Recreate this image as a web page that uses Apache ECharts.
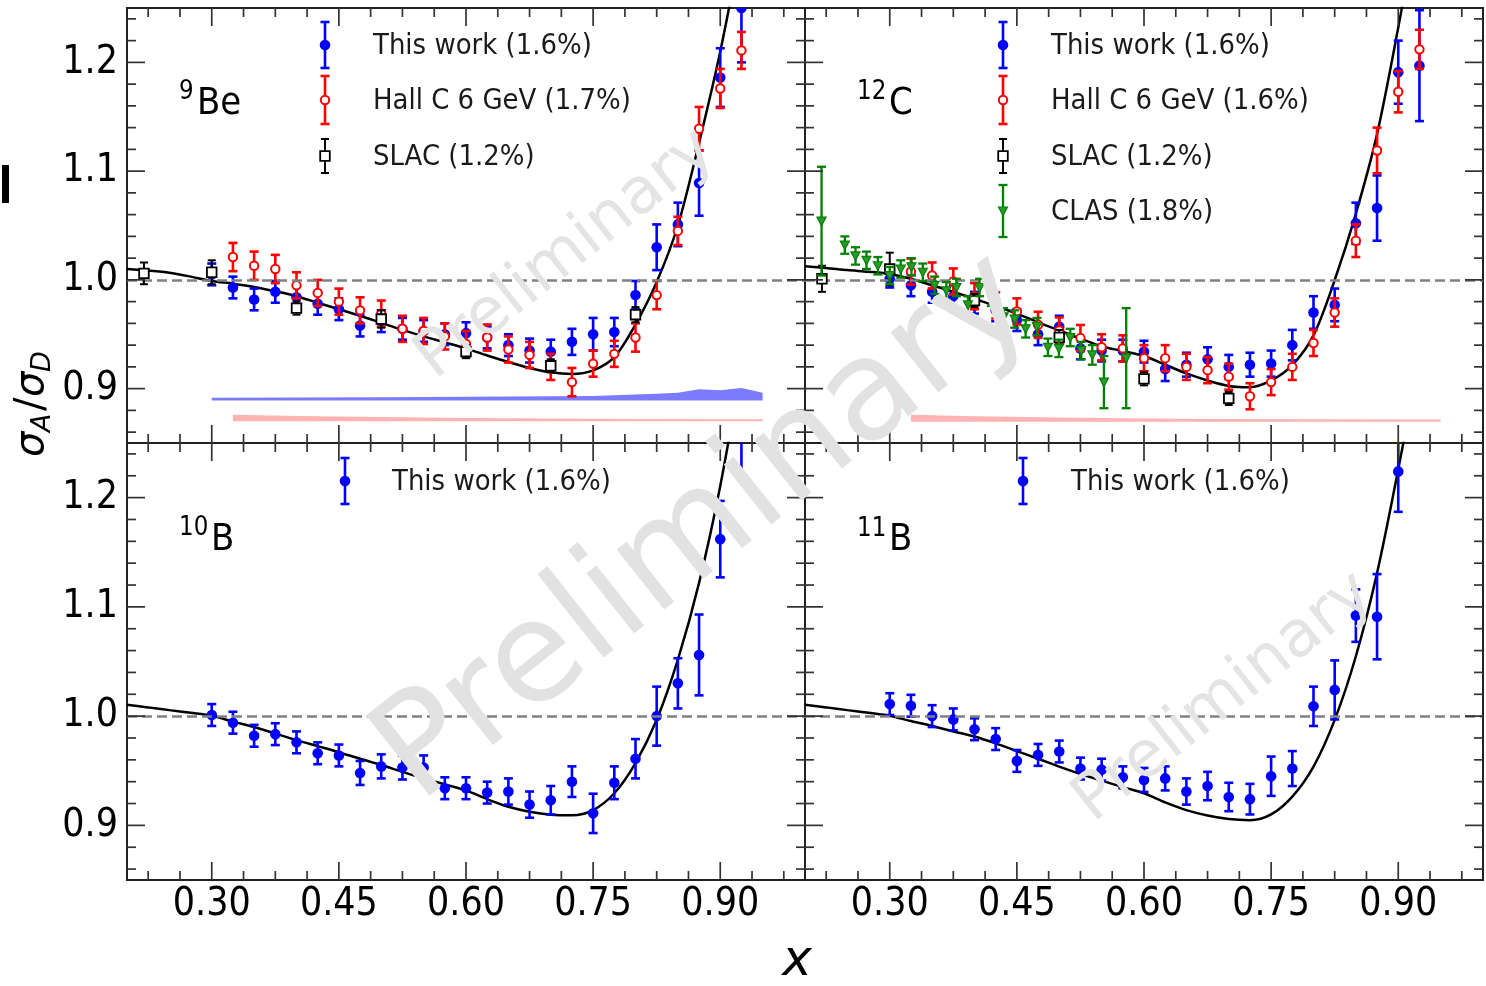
<!DOCTYPE html>
<html><head><meta charset="utf-8">
<script src="https://cdn.jsdelivr.net/npm/echarts@6/dist/echarts.min.js"></script>
<style>html,body{margin:0;padding:0;background:#fff}#c{width:1486px;height:986px}</style>
</head><body><div id="c"></div>
<script>
// ---------- tick definitions ----------
const xMajor = [0.30, 0.45, 0.60, 0.75, 0.90];
const xMajorLabels = ['0.30', '0.45', '0.60', '0.75', '0.90'];
const xMinor = [0.225, 0.2625, 0.3375, 0.375, 0.4125, 0.4875, 0.525, 0.5625, 0.6375, 0.675, 0.7125, 0.7875, 0.825, 0.8625, 0.9375, 0.975];
const yMajor = [0.9, 1.0, 1.1, 1.2];
const yMajorLabels = ['0.9', '1.0', '1.1', '1.2'];
const yMinor = [0.86, 0.88, 0.92, 0.94, 0.96, 0.98, 1.02, 1.04, 1.06, 1.08, 1.12, 1.14, 1.16, 1.18, 1.22, 1.24];

// ---------- theory curve abscissae (shared) ----------
const curveX = [0.20,0.225,0.25,0.275,0.30,0.325,0.35,0.375,0.40,0.425,0.45,0.475,0.50,0.525,0.55,0.575,0.60,0.625,0.65,0.675,0.70,0.725,0.75,0.775,0.80,0.825,0.85,0.875,0.90,0.925,0.95];

// ---------- 9Be ----------
const beThisX = [0.30,0.325,0.35,0.375,0.40,0.425,0.45,0.475,0.50,0.525,0.55,0.575,0.60,0.625,0.65,0.675,0.70,0.725,0.75,0.775,0.80,0.825,0.85,0.875,0.90,0.925];
const beThisY = [1.005,0.993,0.982,0.989,0.984,0.978,0.973,0.958,0.962,0.955,0.953,0.950,0.951,0.947,0.940,0.935,0.934,0.943,0.950,0.952,0.986,1.030,1.051,1.089,1.186,1.250];
const beThisE = [0.010,0.010,0.010,0.010,0.010,0.010,0.010,0.010,0.010,0.010,0.010,0.010,0.010,0.010,0.010,0.011,0.011,0.012,0.015,0.013,0.013,0.021,0.020,0.030,0.027,0.050];
const beHallX = [0.325,0.35,0.375,0.40,0.425,0.45,0.475,0.50,0.525,0.55,0.575,0.60,0.625,0.65,0.675,0.70,0.725,0.75,0.775,0.80,0.825,0.85,0.875,0.90,0.925];
const beHallY = [1.021,1.013,1.010,0.995,0.988,0.980,0.972,0.969,0.955,0.953,0.948,0.941,0.947,0.936,0.931,0.920,0.906,0.923,0.932,0.947,0.986,1.045,1.139,1.176,1.211];
const beHallE = [0.013,0.013,0.013,0.012,0.012,0.012,0.012,0.012,0.012,0.012,0.012,0.012,0.012,0.012,0.012,0.012,0.013,0.012,0.012,0.013,0.013,0.013,0.020,0.018,0.017];
const beSlacX = [0.22,0.30,0.40,0.50,0.60,0.70,0.80];
const beSlacY = [1.006,1.007,0.974,0.964,0.934,0.921,0.968];
const beSlacE = [0.010,0.011,0.006,0.008,0.006,0.006,0.007];
const beBandX  = [0.30,0.40,0.50,0.60,0.70,0.75,0.80,0.825,0.85,0.875,0.90,0.925,0.95];
const beBandLo = [0.889,0.889,0.889,0.889,0.889,0.889,0.889,0.889,0.889,0.889,0.889,0.889,0.889];
const beBandHi = [0.8915,0.8918,0.892,0.8925,0.893,0.8933,0.8945,0.8954,0.8963,0.8994,0.8985,0.9006,0.8963];
const beHallBandX  = [0.325,0.40,0.50,0.60,0.70,0.80,0.95];
const beHallBandLo = [0.870,0.870,0.870,0.870,0.870,0.870,0.870];
const beHallBandHi = [0.876,0.8748,0.8738,0.873,0.8725,0.872,0.8718];
const curveBeY = [1.010,1.0085,1.0065,1.003,0.999,0.9965,0.9935,0.9895,0.985,0.979,0.973,0.967,0.9605,0.954,0.948,0.9425,0.937,0.9305,0.9245,0.919,0.9150,0.9135,0.9168,0.929,0.9590,0.998,1.050,1.126,1.210,1.31,1.42];

// ---------- 12C ----------
const cThisX = [0.30,0.325,0.35,0.375,0.40,0.425,0.45,0.475,0.50,0.525,0.55,0.575,0.60,0.625,0.65,0.675,0.70,0.725,0.75,0.775,0.80,0.825,0.85,0.875,0.90,0.925];
const cThisY = [1.001,0.995,0.989,0.985,0.979,0.972,0.963,0.950,0.957,0.937,0.935,0.935,0.934,0.918,0.922,0.927,0.920,0.922,0.923,0.940,0.970,0.977,1.052,1.066,1.191,1.197];
const cThisE = [0.008,0.010,0.010,0.010,0.010,0.010,0.010,0.010,0.010,0.010,0.010,0.010,0.010,0.011,0.011,0.011,0.011,0.011,0.012,0.014,0.015,0.015,0.019,0.030,0.029,0.051];
const cHallX = [0.325,0.35,0.375,0.40,0.425,0.45,0.475,0.50,0.525,0.55,0.575,0.60,0.625,0.65,0.675,0.70,0.725,0.75,0.775,0.80,0.825,0.85,0.875,0.90,0.925];
const cHallY = [1.0076,1.004,0.9985,0.985,0.9765,0.971,0.9587,0.9535,0.9465,0.938,0.937,0.928,0.928,0.920,0.917,0.911,0.893,0.906,0.920,0.942,0.970,1.036,1.119,1.173,1.212];
const cHallE = [0.012,0.012,0.012,0.012,0.012,0.012,0.012,0.012,0.012,0.012,0.012,0.012,0.012,0.012,0.012,0.012,0.012,0.012,0.012,0.012,0.013,0.015,0.021,0.019,0.018];
const cSlacX = [0.22,0.30,0.40,0.50,0.60,0.70];
const cSlacY = [1.001,1.010,0.981,0.947,0.909,0.891];
const cSlacE = [0.012,0.015,0.006,0.007,0.006,0.006];
const cClasX = [0.2195,0.247,0.2596,0.2725,0.286,0.300,0.313,0.3256,0.339,0.353,0.3668,0.3786,0.3923,0.406,0.4199,0.4344,0.4474,0.4603,0.4737,0.4866,0.4996,0.513,0.526,0.539,0.5527,0.579];
const cClasY = [1.054,1.032,1.022,1.018,1.013,1.004,1.010,1.012,1.007,0.995,0.990,0.993,0.977,0.993,0.984,0.966,0.964,0.955,0.957,0.938,0.937,0.947,0.935,0.931,0.906,0.928];
const cClasE = [0.050,0.008,0.008,0.008,0.008,0.008,0.008,0.008,0.008,0.008,0.008,0.008,0.008,0.008,0.008,0.008,0.008,0.008,0.008,0.008,0.008,0.008,0.008,0.009,0.024,0.046];
const cHallBandX  = [0.325,0.40,0.50,0.60,0.70,0.80,0.95];
const cHallBandLo = [0.8695,0.8695,0.8695,0.8695,0.8695,0.8695,0.8695];
const cHallBandHi = [0.876,0.8745,0.8735,0.8725,0.872,0.8718,0.8715];
const curveCY = [1.0126,1.011,1.009,1.0075,1.0055,1.001,0.995,0.989,0.9826,0.976,0.969,0.961,0.9535,0.946,0.939,0.9345,0.930,0.922,0.914,0.9075,0.9025,0.9012,0.9075,0.9217,0.949,0.9997,1.061,1.134,1.232,1.34,1.46];

// ---------- 10B ----------
const b10X = [0.30,0.325,0.35,0.375,0.40,0.425,0.45,0.475,0.50,0.525,0.55,0.575,0.60,0.625,0.65,0.675,0.70,0.725,0.75,0.775,0.80,0.825,0.85,0.875,0.90,0.925];
const b10Y = [1.001,0.994,0.982,0.9835,0.976,0.966,0.964,0.948,0.954,0.953,0.953,0.934,0.934,0.930,0.931,0.919,0.923,0.940,0.911,0.939,0.961,1.000,1.030,1.056,1.162,1.260];
const b10E = [0.010,0.010,0.010,0.010,0.010,0.010,0.010,0.011,0.011,0.011,0.011,0.010,0.010,0.010,0.012,0.012,0.013,0.014,0.018,0.015,0.018,0.027,0.023,0.037,0.035,0.040];
const curve10Y = [1.0104,1.008,1.0055,1.003,1.0003,0.995,0.990,0.984,0.978,0.9725,0.967,0.961,0.9553,0.949,0.943,0.9375,0.932,0.924,0.917,0.9125,0.9098,0.9092,0.914,0.9294,0.957,0.9966,1.0517,1.122,1.2107,1.32,1.44];

// ---------- 11B ----------
const b11X = [0.30,0.325,0.35,0.375,0.40,0.425,0.45,0.475,0.50,0.525,0.55,0.575,0.60,0.625,0.65,0.675,0.70,0.725,0.75,0.775,0.80,0.825,0.85,0.875,0.90];
const b11Y = [1.011,1.0095,1.000,0.997,0.988,0.979,0.959,0.9645,0.9676,0.952,0.951,0.944,0.9416,0.943,0.931,0.936,0.926,0.924,0.945,0.952,1.009,1.024,1.092,1.091,1.224];
const b11E = [0.010,0.010,0.010,0.010,0.010,0.010,0.010,0.010,0.010,0.010,0.010,0.010,0.011,0.011,0.012,0.013,0.013,0.014,0.018,0.016,0.018,0.027,0.024,0.039,0.037];
const curve11Y = [1.0104,1.008,1.0055,1.003,1.0003,0.9955,0.991,0.986,0.9813,0.975,0.968,0.961,0.9538,0.947,0.941,0.935,0.9294,0.921,0.914,0.909,0.9058,0.9048,0.910,0.9263,0.9538,0.9966,1.0548,1.131,1.226,1.33,1.45];

// ---------- styles ----------
const FONT = "'DejaVu Sans', sans-serif";
const XMIN = 0.2, XMAX = 1.0, YMIN = 0.85, YMAX = 1.25;
const STY = {
  thisw: { color: '#0000ff', lw: 2.6, cap: 4.5 },
  hall:  { color: '#ff0000', lw: 2.6, cap: 4.5 },
  slac:  { color: '#000000', lw: 2.0, cap: 4 },
  clas:  { color: '#008000', lw: 2.3, cap: 4.5 }
};
function marker(kind, x, y) {
  if (kind === 'thisw') return { type: 'circle', shape: { cx: x, cy: y, r: 5.3 }, style: { fill: '#0000ff' } };
  if (kind === 'hall') return { type: 'circle', shape: { cx: x, cy: y, r: 4.2 }, style: { fill: '#ffffff', stroke: '#ff0000', lineWidth: 2 } };
  if (kind === 'slac') return { type: 'rect', shape: { x: x - 4.8, y: y - 4.8, width: 9.6, height: 9.6 }, style: { fill: '#ffffff', stroke: '#000000', lineWidth: 1.8 } };
  return { type: 'polygon', shape: { points: [[x - 4.5, y - 4], [x + 4.5, y - 4], [x, y + 4.5]] }, style: { fill: '#2a9a2a', stroke: '#008000', lineWidth: 1.2 } };
}
function errBarEls(kind, x, ylo, yhi, yc) {
  const s = STY[kind];
  const ls = { stroke: s.color, lineWidth: s.lw };
  return [
    { type: 'line', shape: { x1: x, y1: ylo, x2: x, y2: yhi }, style: ls },
    { type: 'line', shape: { x1: x - s.cap, y1: ylo, x2: x + s.cap, y2: ylo }, style: ls },
    { type: 'line', shape: { x1: x - s.cap, y1: yhi, x2: x + s.cap, y2: yhi }, style: ls },
    marker(kind, x, yc)
  ];
}
function errSeries(gi, xs, ys, es, kind, z) {
  return {
    type: 'custom', xAxisIndex: gi, yAxisIndex: gi, clip: true, z: z, silent: true,
    encode: { x: 0, y: 1 },
    data: xs.map((x, i) => [x, ys[i], es[i]]),
    renderItem(params, api) {
      const x = api.value(0), y = api.value(1), e = api.value(2);
      const p = api.coord([x, y]);
      const lo = api.coord([x, y - e]);
      const hi = api.coord([x, y + e]);
      return { type: 'group', children: errBarEls(kind, p[0], lo[1], hi[1], p[1]) };
    }
  };
}
function bandSeries(gi, xs, lo, hi, color, z) {
  return {
    type: 'custom', xAxisIndex: gi, yAxisIndex: gi, clip: true, z: z, silent: true,
    encode: { x: 0, y: 1 },
    data: xs.map((x, i) => [x, lo[i], hi[i]]),
    renderItem(params, api) {
      if (params.dataIndex !== 0) return null;
      const top = xs.map((x, i) => api.coord([x, hi[i]]));
      const bot = xs.map((x, i) => api.coord([x, lo[i]])).reverse();
      return { type: 'polygon', shape: { points: top.concat(bot) }, style: { fill: color } };
    }
  };
}
function curveSeries(gi, xs, ys) {
  return {
    type: 'line', xAxisIndex: gi, yAxisIndex: gi, silent: true, z: 2,
    data: xs.map((x, i) => [x, ys[i]]),
    showSymbol: false, smooth: 0.3, clip: true,
    lineStyle: { color: '#000', width: 2.5 },
    markLine: {
      silent: true, symbol: 'none', label: { show: false }, animation: false,
      lineStyle: { color: '#808080', type: [10, 5], width: 2.6 },
      data: [{ yAxis: 1.0 }]
    }
  };
}
function tickSeries(gi) {
  const data = [];
  xMajor.forEach(v => data.push([v, YMIN, 1, 0]));
  xMinor.forEach(v => data.push([v, YMIN, 0, 0]));
  yMajor.forEach(v => data.push([XMIN, v, 1, 1]));
  yMinor.forEach(v => data.push([XMIN, v, 0, 1]));
  return {
    type: 'custom', xAxisIndex: gi, yAxisIndex: gi, clip: false, z: 8, silent: true,
    encode: { x: 0, y: 1 }, data: data,
    renderItem(params, api) {
      const major = api.value(2) === 1, axis = api.value(3);
      const L = major ? 18 : 9;
      const ls = { stroke: '#333', lineWidth: 1.7 };
      if (axis === 0) {
        const v = api.value(0);
        const b = api.coord([v, YMIN]), t = api.coord([v, YMAX]);
        return { type: 'group', children: [
          { type: 'line', shape: { x1: b[0], y1: b[1], x2: b[0], y2: b[1] - L }, style: ls },
          { type: 'line', shape: { x1: t[0], y1: t[1], x2: t[0], y2: t[1] + L }, style: ls }
        ] };
      }
      const v = api.value(1);
      const l = api.coord([XMIN, v]), r = api.coord([XMAX, v]);
      return { type: 'group', children: [
        { type: 'line', shape: { x1: l[0], y1: l[1], x2: l[0] + L, y2: l[1] }, style: ls },
        { type: 'line', shape: { x1: r[0], y1: r[1], x2: r[0] - L, y2: r[1] }, style: ls }
      ] };
    }
  };
}
function xLabelSeries(gi) {
  return {
    type: 'custom', xAxisIndex: gi, yAxisIndex: gi, clip: false, z: 8, silent: true,
    encode: { x: 0, y: 1 },
    data: xMajor.map((v, i) => [v, YMIN, i]),
    renderItem(params, api) {
      const p = api.coord([api.value(0), YMIN]);
      return { type: 'text', x: p[0], y: p[1] + 25, scaleY: 1.12,
        style: { text: xMajorLabels[api.value(2)], font: '35px ' + FONT, fill: '#000',
          align: 'center', verticalAlign: 'middle', textAlign: 'center', textVerticalAlign: 'middle' } };
    }
  };
}
function yLabelSeries(gi) {
  return {
    type: 'custom', xAxisIndex: gi, yAxisIndex: gi, clip: false, z: 8, silent: true,
    encode: { x: 0, y: 1 },
    data: yMajor.map((v, i) => [XMIN, v, i]),
    renderItem(params, api) {
      const p = api.coord([XMIN, api.value(1)]);
      return { type: 'text', x: p[0] - 9, y: p[1], scaleY: 1.12,
        style: { text: yMajorLabels[api.value(2)], font: '35px ' + FONT, fill: '#000',
          align: 'right', verticalAlign: 'middle', textAlign: 'right', textVerticalAlign: 'middle' } };
    }
  };
}

// ---------- layout ----------
const grids = [
  { left: 127, top: 8, width: 678, height: 435 },
  { left: 805, top: 8, width: 678, height: 435 },
  { left: 127, top: 443, width: 678, height: 437 },
  { left: 805, top: 443, width: 678, height: 437 }
].map(g => Object.assign(g, { show: true, borderColor: '#222', borderWidth: 2, backgroundColor: 'transparent', containLabel: false }));
const xAxes = grids.map((g, i) => ({ type: 'value', gridIndex: i, min: XMIN, max: XMAX,
  axisLine: { show: false }, axisTick: { show: false }, axisLabel: { show: false }, splitLine: { show: false } }));
const yAxes = grids.map((g, i) => ({ type: 'value', gridIndex: i, min: YMIN, max: YMAX,
  axisLine: { show: false }, axisTick: { show: false }, axisLabel: { show: false }, splitLine: { show: false } }));

const series = [];
// 9Be
series.push(bandSeries(0, beBandX, beBandLo, beBandHi, '#7b7bff', 1));
series.push(bandSeries(0, beHallBandX, beHallBandLo, beHallBandHi, '#ffb3b3', 1));
series.push(curveSeries(0, curveX, curveBeY));
series.push(errSeries(0, beThisX, beThisY, beThisE, 'thisw', 3));
series.push(errSeries(0, beHallX, beHallY, beHallE, 'hall', 4));
series.push(errSeries(0, beSlacX, beSlacY, beSlacE, 'slac', 5));
// 12C
series.push(bandSeries(1, cHallBandX, cHallBandLo, cHallBandHi, '#ffb3b3', 1));
series.push(curveSeries(1, curveX, curveCY));
series.push(errSeries(1, cThisX, cThisY, cThisE, 'thisw', 3));
series.push(errSeries(1, cHallX, cHallY, cHallE, 'hall', 4));
series.push(errSeries(1, cSlacX, cSlacY, cSlacE, 'slac', 5));
series.push(errSeries(1, cClasX, cClasY, cClasE, 'clas', 6));
// 10B
series.push(curveSeries(2, curveX, curve10Y));
series.push(errSeries(2, b10X, b10Y, b10E, 'thisw', 3));
// 11B
series.push(curveSeries(3, curveX, curve11Y));
series.push(errSeries(3, b11X, b11Y, b11E, 'thisw', 3));
// ticks & labels
[0, 1, 2, 3].forEach(gi => series.push(tickSeries(gi)));
series.push(xLabelSeries(2), xLabelSeries(3), yLabelSeries(0), yLabelSeries(2));

// ---------- graphic: legends, labels, watermark ----------
const graphic = [];
function legendRow(x, y, half, kind, text, tx) {
  errBarEls(kind, x, y + half, y - half, y).forEach(e => graphic.push(Object.assign(e, { z: 50 })));
  graphic.push({ type: 'text', x: tx, y: y + 2, scaleY: 1.1, z: 50,
    style: { text: text, font: '26px ' + FONT, fill: '#1a1a1a', align: 'left', verticalAlign: 'middle', textAlign: 'left', textVerticalAlign: 'middle' } });
}
legendRow(325, 45, 23, 'thisw', 'This work (1.6%)', 373);
legendRow(325, 100, 24, 'hall', 'Hall C 6 GeV (1.7%)', 373);
legendRow(325, 156, 17, 'slac', 'SLAC (1.2%)', 373);
legendRow(1003, 45, 23, 'thisw', 'This work (1.6%)', 1051);
legendRow(1003, 100, 24, 'hall', 'Hall C 6 GeV (1.6%)', 1051);
legendRow(1003, 156, 17, 'slac', 'SLAC (1.2%)', 1051);
legendRow(1003, 211, 26, 'clas', 'CLAS (1.8%)', 1051);
legendRow(345, 481, 23, 'thisw', 'This work (1.6%)', 392);
legendRow(1023, 481, 23, 'thisw', 'This work (1.6%)', 1071);

function nucleus(sx, sy, sup, mx, my, main) {
  graphic.push({ type: 'text', x: sx, y: sy, scaleY: 1.15, z: 50,
    style: { text: sup, font: '23px ' + FONT, fill: '#000', align: 'left', verticalAlign: 'middle', textAlign: 'left', textVerticalAlign: 'middle' } });
  graphic.push({ type: 'text', x: mx, y: my, scaleY: 1.12, z: 50,
    style: { text: main, font: '34px ' + FONT, fill: '#000', align: 'left', verticalAlign: 'middle', textAlign: 'left', textVerticalAlign: 'middle' } });
}
nucleus(179, 92, '9', 197, 104, 'Be');
nucleus(857, 92, '12', 889, 104, 'C');
nucleus(179, 528, '10', 211, 540, 'B');
nucleus(857, 529, '11', 889, 540, 'B');

// y-axis title sigma_A / sigma_D (rotated)
const tstyle = (t, size, ital) => ({ text: t, font: (ital ? 'italic ' : '') + size + 'px ' + FONT, fill: '#000',
  align: 'left', verticalAlign: 'middle', textAlign: 'left', textVerticalAlign: 'middle' });
graphic.push({ type: 'group', x: 33, y: 457, rotation: Math.PI / 2, z: 50, children: [
  { type: 'text', x: 0, y: 0, style: tstyle('σ', 40, true) },
  { type: 'text', x: 25, y: 10, style: tstyle('A', 27, true) },
  { type: 'text', x: 46, y: 0, style: tstyle('/', 40, false) },
  { type: 'text', x: 60, y: 0, style: tstyle('σ', 40, true) },
  { type: 'text', x: 85, y: 10, style: tstyle('D', 27, true) }
] });
// x-axis title
graphic.push({ type: 'text', x: 797, y: 962, z: 50,
  style: { text: 'x', font: 'italic 50px ' + FONT, fill: '#000', align: 'center', verticalAlign: 'middle', textAlign: 'center', textVerticalAlign: 'middle' } });
// stray mark at left edge
graphic.push({ type: 'rect', shape: { x: 2, y: 165, width: 7, height: 38 }, style: { fill: '#000' }, z: 50 });

// watermarks
function watermark(x, y, size, color) {
  graphic.push({ type: 'text', x: x, y: y, rotation: 0.67, z: 100,
    style: { text: 'Preliminary', font: size + 'px ' + FONT, fill: color, align: 'center', verticalAlign: 'middle', textAlign: 'center', textVerticalAlign: 'middle' } });
}
watermark(566, 255, 64, '#e4e4e4');
watermark(706, 530, 140, '#e2e2e2');
watermark(1224, 698, 64, '#e4e4e4');

const chart = echarts.init(document.getElementById('c'), null, { renderer: 'canvas' });
chart.setOption({
  animation: false,
  backgroundColor: '#ffffff',
  grid: grids, xAxis: xAxes, yAxis: yAxes,
  series: series,
  graphic: { elements: graphic }
});
</script></body></html>
